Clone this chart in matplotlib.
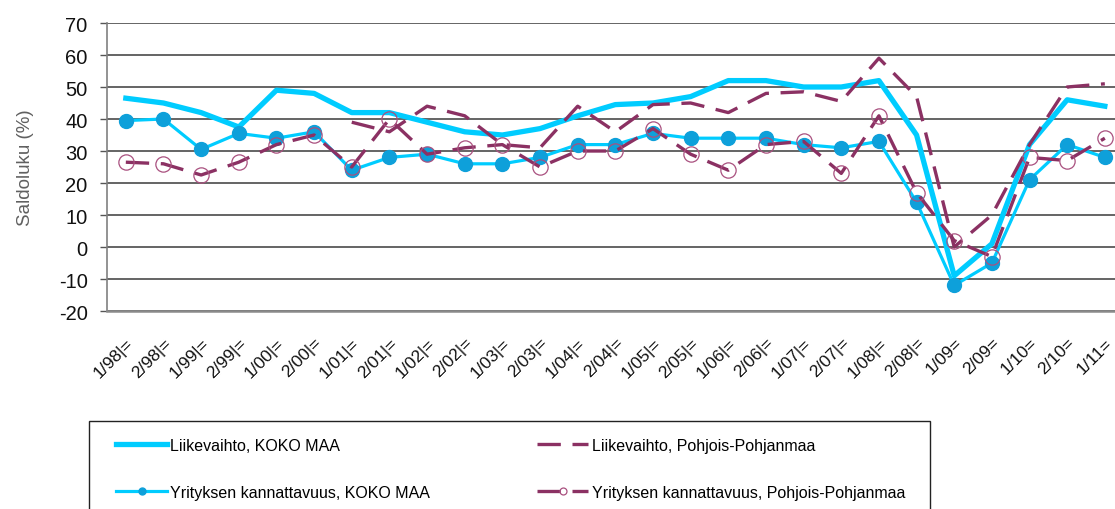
import numpy as np
import matplotlib
matplotlib.use("Agg")
import matplotlib.pyplot as plt
from matplotlib.patches import Rectangle

plt.rcParams['font.family'] = ['Liberation Sans', 'DejaVu Sans']
plt.rcParams['axes.unicode_minus'] = False

# kyselykierrokset
kaudet = ['1/98|=', '2/98|=', '1/99|=', '2/99|=', '1/00|=', '2/00|=', '1/01|=', '2/01|=',
          '1/02|=', '2/02|=', '1/03|=', '2/03|=', '1/04|=', '2/04|=', '1/05|=', '2/05|=',
          '1/06|=', '2/06|=', '1/07|=', '2/07|=', '1/08|=', '2/08|=', '1/09=', '2/09=',
          '1/10=', '2/10=', '1/11=']

nan = np.nan
liike_koko = [46.5, 45, 42, 37.5, 49, 48, 42, 42, 39, 36, 35, 37, 41, 44.5, 45, 47,
              52, 52, 50, 50, 52, 35, -9, 1, 32, 46, 44]
liike_pp = [nan, nan, nan, nan, nan, nan, 39, 36, 44, 41, 32, 31, 44, 36, 44.5, 45,
            42, 48, 48.5, 45.5, 59, 47, 0, 10, 32, 50, 51]
yrit_koko = [39.5, 40, 30.5, 35.5, 34, 36, 24, 28, 29, 26, 26, 28, 32, 32, 35.5, 34,
             34, 34, 32, 31, 33, 14, -12, -5, 21, 32, 28]
yrit_pp = [26.5, 26, 22.5, 26.5, 32, 35, 25, 40, 29, 31, 32, 25, 30, 30, 37, 29,
           24, 32, 33, 23, 41, 17, 2, -3, 28, 27, 34]

nimet = ['Liikevaihto, KOKO MAA', 'Liikevaihto, Pohjois-Pohjanmaa',
         'Yrityksen kannattavuus, KOKO MAA', 'Yrityksen kannattavuus, Pohjois-Pohjanmaa']

syaani = '#00CCFF'
violetti = '#8B3163'
viiva = (0, (7, 3.5))

W, H = 1115, 510
fig = plt.figure(figsize=(W / 100, H / 100), dpi=100)
ax = fig.add_axes([107 / W, 1 - 312 / H, 1 - 107 / W, 288 / H])

x = np.arange(len(kaudet))
l1, = ax.plot(x, liike_koko, color=syaani, lw=3.8, solid_joinstyle='round')
l2, = ax.plot(x, liike_pp, color=violetti, lw=2.4, linestyle=viiva)
l3, = ax.plot(x, yrit_koko, color=syaani, lw=2.3, marker='o', markersize=10,
              markerfacecolor='#0EA0DA', markeredgecolor='#0EA0DA')
l4, = ax.plot(x, yrit_pp, color=violetti, lw=2.4, linestyle=viiva, marker='o',
              markersize=11, markerfacecolor='none', markeredgecolor='#A9507F',
              markeredgewidth=0.9)

ax.set_ylim(-20, 70)
ax.set_yticks(range(-20, 71, 10))
ax.set_xlim(-0.5, 26.27)
ax.set_xticks(x)
ax.set_xticklabels(kaudet, rotation=45, ha='right', va='top', rotation_mode='anchor',
                   fontsize=12.5, color='#111111')
ax.tick_params(axis='x', length=0, pad=17)
ax.tick_params(axis='y', direction='out', length=5, width=1, color='#555555',
               labelsize=14.5, labelcolor='#111111', pad=9)

ax.grid(axis='y', color='#3a3a3a', lw=1.1)
ax.set_axisbelow(True)
for s in ['top', 'right']:
    ax.spines[s].set_visible(False)
ax.spines['left'].set_color('#808080')
ax.spines['bottom'].set_color('#8a8a8a')
ax.spines['left'].set_linewidth(1.2)
ax.spines['bottom'].set_linewidth(1.8)

ax.set_ylabel('Saldoluku (%)', fontsize=13.5, color='#606060', labelpad=18)

# legendan kehys erikseen, jatkuu kuvan alareunan yli
fig.patches.append(Rectangle((89 / W, -0.1), (930 - 89) / W, 0.1 + (510 - 422) / H,
                             transform=fig.transFigure, facecolor='white',
                             edgecolor='#222222', lw=1.0, zorder=0))

leg = fig.legend([l1, l3, l2, l4], [nimet[0], nimet[2], nimet[1], nimet[3]],
                 loc='upper left', ncol=2, mode='expand',
                 bbox_to_anchor=(116 / W, 1 - 439 / H, (905 - 116) / W, 0),
                 borderaxespad=0, fontsize=11.5, handlelength=3.2, handletextpad=0.2,
                 labelspacing=2.0, borderpad=0, frameon=False)
for h in leg.legend_handles:
    h.set_markersize(5)

fig.savefig('out.png', dpi=100)
